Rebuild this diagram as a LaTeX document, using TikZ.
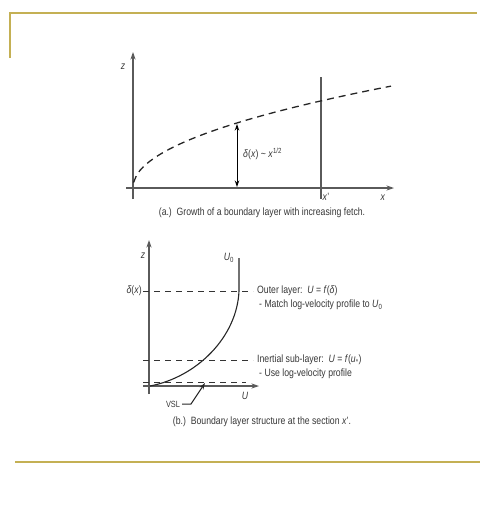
\documentclass[tikz,border=0pt]{standalone}
\usepackage{fontspec}
\setmainfont{Liberation Sans}[FakeStretch=0.82]
\usetikzlibrary{arrows.meta}
\definecolor{gold}{RGB}{196,176,84}
\definecolor{txt}{RGB}{55,55,55}
\definecolor{ax}{RGB}{90,90,90}
\begin{document}
\begin{tikzpicture}[x=1pt,y=-1pt,
  lbl/.style={inner sep=0pt,text=txt,font=\fontsize{10.6}{12}\selectfont},
  axis/.style={draw=ax,line width=1.1pt,-{Stealth[length=7.5pt,width=5pt]}},
  thin/.style={draw=ax,line width=1.1pt},
  dashline/.style={draw=black!80,line width=1pt,dash pattern=on 6pt off 5pt},
  frame/.style={draw=gold,line width=2pt}]
\useasboundingbox (0,0) rectangle (490,517);
% frame
\draw[frame] (10,58) -- (10,13) -- (477,13);
\draw[frame] (15,462) -- (480,462);
% ---------- (a) ----------
\coordinate (za0) at (133,199);
\coordinate (za1) at (133,52);
\coordinate (xa0) at (126,188);
\coordinate (xa1) at (394,188);
\draw[axis] (za0) -- (za1);
\draw[axis] (xa0) -- (xa1);
\coordinate (xp0) at (321,77);
\coordinate (xp1) at (321,199);
\draw[thin] (xp0) -- (xp1);
\draw[draw=black!85,line width=1.3pt,dash pattern=on 7pt off 5pt]
  plot[domain=0.5:258,samples=80] ({133+\x},{187-6.28*sqrt(\x)});
\coordinate (da0) at (237,124);
\coordinate (da1) at (237,187);
\draw[draw=black,line width=1pt,{Stealth[length=6.5pt,width=4.5pt]}-{Stealth[length=6.5pt,width=4.5pt]}] (da0) -- (da1);
\node[lbl,anchor=west] (dl) at (243,154) {\textit{δ}(\textit{x}) \textasciitilde{} \textit{x}\textsuperscript{1/2}};
\node[lbl] (za) at (123,67) {\textit{z}};
\node[lbl] (xpl) at (326,197) {\textit{x}'};
\node[lbl] (xa) at (383,198) {\textit{x}};
\node[lbl] (capa) at (262,213) {(a.)\ \ Growth of a boundary layer with increasing fetch.};
% ---------- (b) ----------
\coordinate (zb0) at (149,394);
\coordinate (zb1) at (149,240);
\coordinate (ub0) at (143,386);
\coordinate (ub1) at (259,386);
\draw[axis] (zb0) -- (zb1);
\draw[axis] (ub0) -- (ub1);
\coordinate (u0top) at (239,258);
\coordinate (u0d) at (239,291);
\coordinate (u0b) at (150,386);
\draw[draw=black!85,line width=1.1pt] (u0top) -- (u0d) .. controls (237,337) and (197,377) .. (u0b);
\coordinate (dl0) at (143,291);
\coordinate (dl1) at (253,291);
\draw[dashline] (dl0) -- (dl1);
\coordinate (il0) at (143,360);
\coordinate (il1) at (253,360);
\draw[dashline] (il0) -- (il1);
\coordinate (vl0) at (143,382);
\coordinate (vl1) at (246,382);
\draw[dashline] (vl0) -- (vl1);
\node[lbl] (zb) at (143,256) {\textit{z}};
\node[lbl] (u0) at (229,258) {\textit{U}\textsubscript{0}};
\node[lbl] (ub) at (245,396) {\textit{U}};
\node[lbl,anchor=east] (dx) at (142,291) {\textit{δ}(\textit{x})};
\node[lbl,anchor=west] (outer) at (257,291) {Outer layer:\ \ \textit{U} = \textit{f}(\textit{δ})};
\node[lbl,anchor=west] (match) at (259,305) {- Match log-velocity profile to \textit{U}\textsubscript{0}};
\node[lbl,anchor=west] (inert) at (257,360) {Inertial sub-layer:\ \ \textit{U} = \textit{f}(\textit{u}\textsubscript{*})};
\node[lbl,anchor=west] (uselog) at (259,374) {- Use log-velocity profile};
\node[lbl,font=\fontsize{9}{10}\selectfont] (vsl) at (173,404) {VSL};
\coordinate (vslt) at (205,383);
\draw[draw=black!85,line width=1pt,-{Stealth[length=6.5pt,width=4.5pt]}] ([xshift=2pt]vsl.east) -- (191,404) -- (vslt);
\node[lbl] (capb) at (262,422) {(b.)\ \ Boundary layer structure at the section \textit{x}'.};
\end{tikzpicture}
\end{document}
